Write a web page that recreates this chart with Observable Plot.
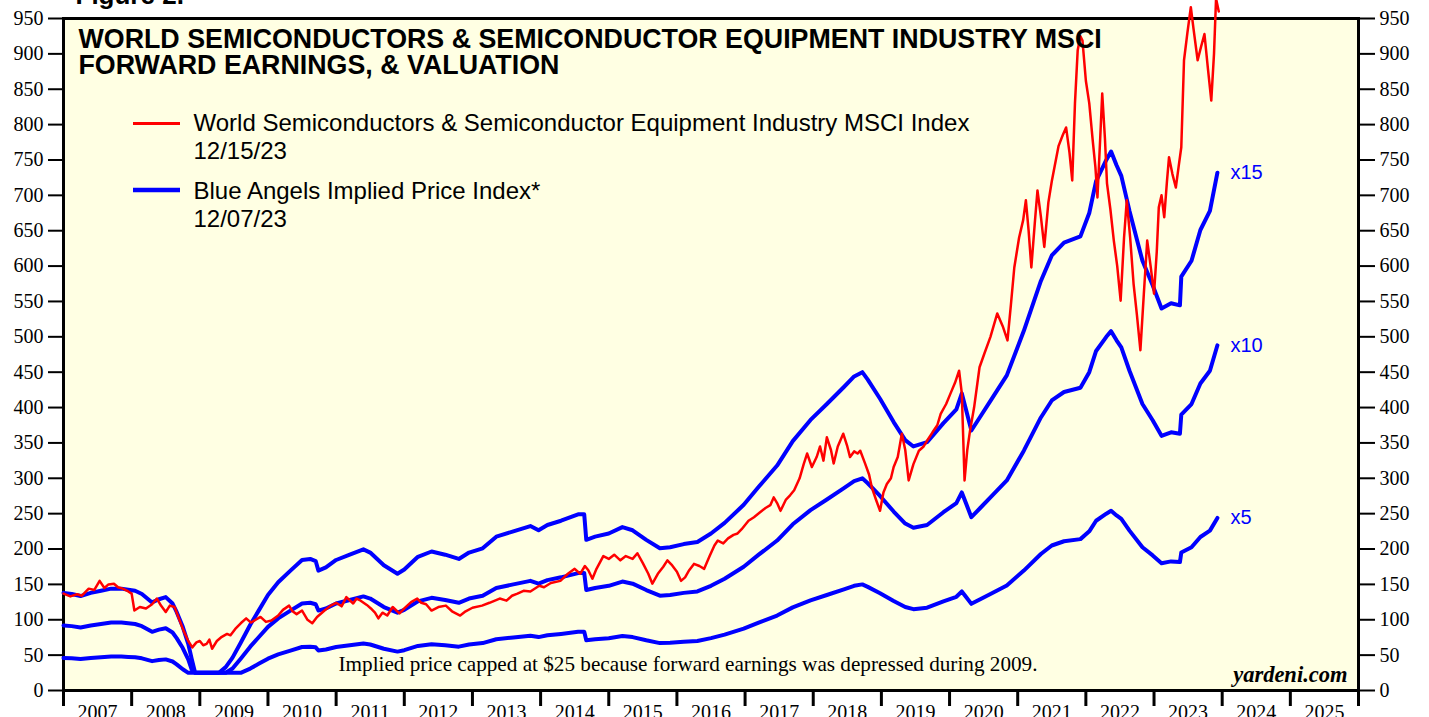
<!DOCTYPE html>
<html>
<head>
<meta charset="utf-8">
<script src="https://cdn.jsdelivr.net/npm/d3@7"></script>
<script src="https://cdn.jsdelivr.net/npm/@observablehq/plot@0.6"></script>
<style>
html, body { margin: 0; padding: 0; background: #ffffff; overflow: hidden; }
#chart svg { display: block; overflow: visible; }
</style>
</head>
<body>
<div id="chart"></div>
<script>
// ---- Data ----
// World Semiconductors & Semiconductor Equipment Industry MSCI Index (decimal years)
const redDates = [
  2007.00,2007.10,2007.20,2007.27,2007.37,2007.45,2007.53,2007.60,2007.66,2007.74,2007.80,2007.87,2007.95,
  2008.00,2008.04,2008.12,2008.21,2008.30,2008.37,2008.43,2008.50,2008.56,2008.63,2008.70,2008.76,2008.83,2008.89,2008.95,
  2009.00,2009.05,2009.10,2009.14,2009.18,2009.25,2009.31,2009.40,2009.45,2009.52,2009.60,2009.68,2009.75,2009.82,2009.89,2009.97,
  2010.05,2010.15,2010.22,2010.31,2010.36,2010.42,2010.50,2010.58,2010.65,2010.72,2010.83,2010.92,
  2011.00,2011.08,2011.15,2011.25,2011.30,2011.36,2011.45,2011.51,2011.57,2011.62,2011.68,2011.75,2011.83,2011.93,
  2012.00,2012.10,2012.19,2012.25,2012.32,2012.40,2012.50,2012.61,2012.70,2012.82,2012.90,
  2013.00,2013.14,2013.25,2013.40,2013.50,2013.58,2013.66,2013.75,2013.85,2013.98,
  2014.05,2014.15,2014.29,2014.40,2014.50,2014.58,2014.65,2014.70,2014.76,2014.82,2014.92,
  2015.00,2015.08,2015.17,2015.25,2015.35,2015.42,2015.50,2015.58,2015.64,2015.72,2015.80,2015.86,2015.92,
  2016.00,2016.06,2016.12,2016.18,2016.25,2016.33,2016.40,2016.48,2016.55,2016.60,2016.68,2016.75,2016.83,2016.89,2016.95,
  2017.05,2017.13,2017.22,2017.30,2017.37,2017.42,2017.47,2017.52,2017.60,2017.66,2017.72,2017.80,2017.86,2017.91,2017.98,
  2018.05,2018.10,2018.15,2018.20,2018.26,2018.30,2018.36,2018.44,2018.50,2018.54,2018.60,2018.65,2018.69,2018.76,2018.82,2018.86,2018.92,2018.98,
  2019.03,2019.08,2019.14,2019.18,2019.24,2019.30,2019.35,2019.40,2019.47,2019.55,2019.62,2019.67,2019.75,2019.82,2019.87,2019.95,
  2020.01,2020.08,2020.14,2020.18,2020.22,2020.26,2020.30,2020.36,2020.44,2020.51,2020.60,2020.70,2020.78,2020.85,2020.90,2020.95,
  2021.02,2021.08,2021.12,2021.16,2021.20,2021.25,2021.29,2021.34,2021.39,2021.45,2021.50,2021.54,2021.60,2021.66,2021.71,2021.76,2021.80,2021.84,2021.88,2021.92,2021.95,
  2022.00,2022.05,2022.10,2022.14,2022.17,2022.21,2022.24,2022.28,2022.31,2022.36,2022.41,2022.46,2022.51,2022.56,2022.60,2022.65,2022.70,2022.75,2022.80,2022.85,2022.90,2022.95,
  2023.00,2023.04,2023.07,2023.11,2023.15,2023.19,2023.22,2023.27,2023.32,2023.36,2023.40,2023.44,2023.49,2023.54,2023.58,2023.64,2023.69,2023.74,2023.79,2023.84,2023.88,2023.91,2023.95
];
const redIndex = [
  137,133,136,134,144,142,155,145,150,151,146,144,140,
  137,113,118,116,122,130,120,111,120,118,100,85,70,61,68,
  70,64,66,72,59,70,75,80,78,87,95,102,96,100,104,97,
  99,106,114,120,112,108,113,100,95,104,113,120,
  124,119,132,123,130,127,121,116,110,102,110,106,118,109,
  116,125,130,124,122,113,118,120,112,106,112,
  117,120,124,130,127,134,137,141,140,148,
  146,152,155,165,172,165,176,170,158,172,190,
  186,192,184,190,186,194,180,165,151,165,175,184,178,
  168,155,160,170,179,176,172,190,205,212,208,215,220,222,228,
  240,245,252,258,262,273,265,254,270,276,283,300,320,335,316,
  330,345,325,358,340,321,345,363,345,330,338,335,339,321,305,287,270,254,
  280,292,300,316,330,363,340,297,320,339,345,353,365,375,391,405,
  419,435,452,420,297,340,367,400,457,476,500,533,515,495,545,598,
  640,665,693,650,598,660,707,670,627,690,720,740,770,785,796,760,721,830,905,925,919,
  862,830,778,740,697,780,844,780,717,680,636,600,551,640,693,640,575,530,481,560,636,600,
  561,620,683,700,669,720,754,730,711,740,768,891,930,966,935,891,910,928,880,834,900,978,960
];

// Forward earnings behind the Blue Angels Implied Price Index (decimal years)
const earnDates = [
  2007.00,2007.12,2007.25,2007.40,2007.55,2007.70,2007.85,2007.95,
  2008.05,2008.15,2008.30,2008.40,2008.50,2008.60,2008.66,2008.75,2008.83,2008.88,2008.93,
  2009.00,2009.28,2009.38,2009.48,2009.60,2009.74,2009.87,
  2010.00,2010.15,2010.33,2010.50,2010.62,2010.70,2010.74,2010.85,
  2011.00,2011.20,2011.40,2011.50,2011.70,2011.90,
  2012.00,2012.20,2012.40,2012.60,2012.80,2012.95,
  2013.15,2013.35,2013.60,2013.85,2013.97,
  2014.10,2014.30,2014.55,2014.64,2014.67,2014.80,
  2015.00,2015.20,2015.35,2015.55,2015.75,2015.90,
  2016.10,2016.30,2016.50,2016.70,2016.98,
  2017.20,2017.47,2017.70,2017.96,
  2018.20,2018.45,2018.60,2018.72,2018.80,2018.98,
  2019.18,2019.35,2019.47,2019.67,2019.91,
  2020.10,2020.18,2020.24,2020.32,2020.45,2020.60,2020.84,
  2021.09,2021.34,2021.50,2021.68,2021.92,
  2022.05,2022.15,2022.30,2022.37,2022.45,2022.52,2022.64,2022.83,2022.98,
  2023.11,2023.25,2023.38,2023.40,2023.55,2023.68,2023.82,2023.93
];
const forwardEarnings = [
  9.2,9.1,8.9,9.2,9.4,9.6,9.6,9.5,
  9.4,9.1,8.3,8.6,8.8,8.2,7.4,6.0,4.4,3.0,1.7,
  1.0,1.6,2.2,3.1,4.5,6.2,7.6,
  9.0,10.2,11.3,12.3,12.4,12.2,11.3,11.6,
  12.3,12.8,13.3,13.0,11.8,11.0,
  11.4,12.6,13.1,12.8,12.4,13.0,
  13.4,14.5,15.0,15.5,15.1,
  15.6,16.0,16.6,16.6,14.2,14.5,
  14.8,15.4,15.1,14.2,13.4,13.5,
  13.8,14.0,14.8,15.8,17.5,
  19.2,21.2,23.5,25.5,
  27.0,28.6,29.6,30.0,29.3,27.5,
  25.3,23.6,23.0,23.4,25.2,
  26.5,28.0,26.5,24.5,25.8,27.3,29.7,
  33.9,38.6,41.0,42.2,42.8,
  45.0,48.0,50.0,50.8,49.5,48.5,45.2,40.5,38.2,
  36.0,36.5,36.3,39.0,40.5,43.4,45.2,48.8
];
const multiples = [5, 10, 15];
const priceCap = 25; // implied price capped at $25

const yTicks = d3.range(0, 951, 50);
const yearTicks = d3.range(2007, 2027);
const yearLabels = d3.range(2007, 2026);

// ---- Tables built from the arrays ----
const red = redDates.map((d, i) => ({year: d, value: redIndex[i]}));
const blue = multiples.flatMap(m => earnDates.map((d, i) => ({
  year: d, value: Math.max(priceCap, forwardEarnings[i] * m), mult: m
})));
const blueEnds = multiples.map(m => ({
  year: earnDates[earnDates.length - 1],
  value: Math.max(priceCap, forwardEarnings[forwardEarnings.length - 1] * m),
  label: "x" + m
}));

const sans = "'Liberation Sans', Arial, sans-serif";
const serif = "'Liberation Serif', 'Times New Roman', serif";

const chart = Plot.plot({
  width: 1429,
  height: 717,
  marginLeft: 63,
  marginRight: 71,
  marginTop: 18,
  marginBottom: 27,
  style: {fontFamily: serif, fontSize: "20px", color: "#000", background: "#fff", overflow: "visible"},
  x: {domain: [2007, 2026], label: null},
  y: {domain: [0, 950], label: null},
  marks: [
    Plot.frame({fill: "#ffffe3", stroke: null}),
    Plot.frame({stroke: "#000", strokeWidth: 3}),
    Plot.axisY({anchor: "left", ticks: yTicks, tickSize: 15, tickPadding: 5, strokeWidth: 2, label: null, fontSize: 20}),
    Plot.axisY({anchor: "right", ticks: yTicks, tickSize: 16, tickPadding: 5, strokeWidth: 2, label: null, fontSize: 20}),
    Plot.axisX({ticks: yearTicks, tickSize: 16, tickFormat: () => "", strokeWidth: 3, label: null}),
    Plot.axisX({ticks: yearLabels.map(y => y + 0.5), tickSize: 0, tickPadding: 14, tickFormat: d => String(Math.floor(d)), label: null, fontSize: 20}),
    Plot.lineY(blue, {x: "year", y: "value", z: "mult", stroke: "#0000ff", strokeWidth: 4}),
    Plot.lineY(red, {x: "year", y: "value", stroke: "#ff0000", strokeWidth: 2.5}),
    Plot.text(blueEnds, {x: "year", y: "value", text: "label", dx: 13, textAnchor: "start", fill: "#0000ff", fontFamily: sans, fontSize: 20}),
    Plot.text(["Figure 2."], {frameAnchor: "top-left", dx: 12, dy: -15, lineAnchor: "bottom", textAnchor: "start", fontFamily: sans, fontWeight: "bold", fontSize: 26}),
    Plot.text(["WORLD SEMICONDUCTORS & SEMICONDUCTOR EQUIPMENT INDUSTRY MSCI\nFORWARD EARNINGS, & VALUATION"],
      {frameAnchor: "top-left", dx: 15, dy: 10, lineAnchor: "top", textAnchor: "start", lineHeight: 1.0, fontFamily: sans, fontWeight: "bold", fontSize: 26.8}),
    Plot.text(["World Semiconductors & Semiconductor Equipment Industry MSCI Index\n12/15/23"],
      {frameAnchor: "top-left", dx: 130, dy: 92.5, lineAnchor: "top", textAnchor: "start", lineHeight: 1.17, fontFamily: sans, fontSize: 24}),
    Plot.text(["Blue Angels Implied Price Index*\n12/07/23"],
      {frameAnchor: "top-left", dx: 130, dy: 160.5, lineAnchor: "top", textAnchor: "start", lineHeight: 1.17, fontFamily: sans, fontSize: 24}),
    Plot.text(["Implied price capped at $25 because forward earnings was depressed during 2009."],
      {frameAnchor: "bottom", dx: -23, dy: -20, lineAnchor: "bottom", fontFamily: serif, fontSize: 21.2}),
    Plot.text(["yardeni.com"],
      {frameAnchor: "bottom-right", dx: -11, dy: -9, lineAnchor: "bottom", textAnchor: "end", fontFamily: serif, fontWeight: "bold", fontStyle: "italic", fontSize: 22.5})
  ]
});

document.getElementById("chart").appendChild(chart);

// Legend swatches
const svg = d3.select(chart);
const lg = svg.append("g").attr("class", "legend-swatches");
lg.append("line").attr("x1", 133).attr("x2", 180).attr("y1", 123.5).attr("y2", 123.5)
  .attr("stroke", "#ff0000").attr("stroke-width", 3);
lg.append("line").attr("x1", 133).attr("x2", 180).attr("y1", 190).attr("y2", 190)
  .attr("stroke", "#0000ff").attr("stroke-width", 4.5);
</script>
</body>
</html>
